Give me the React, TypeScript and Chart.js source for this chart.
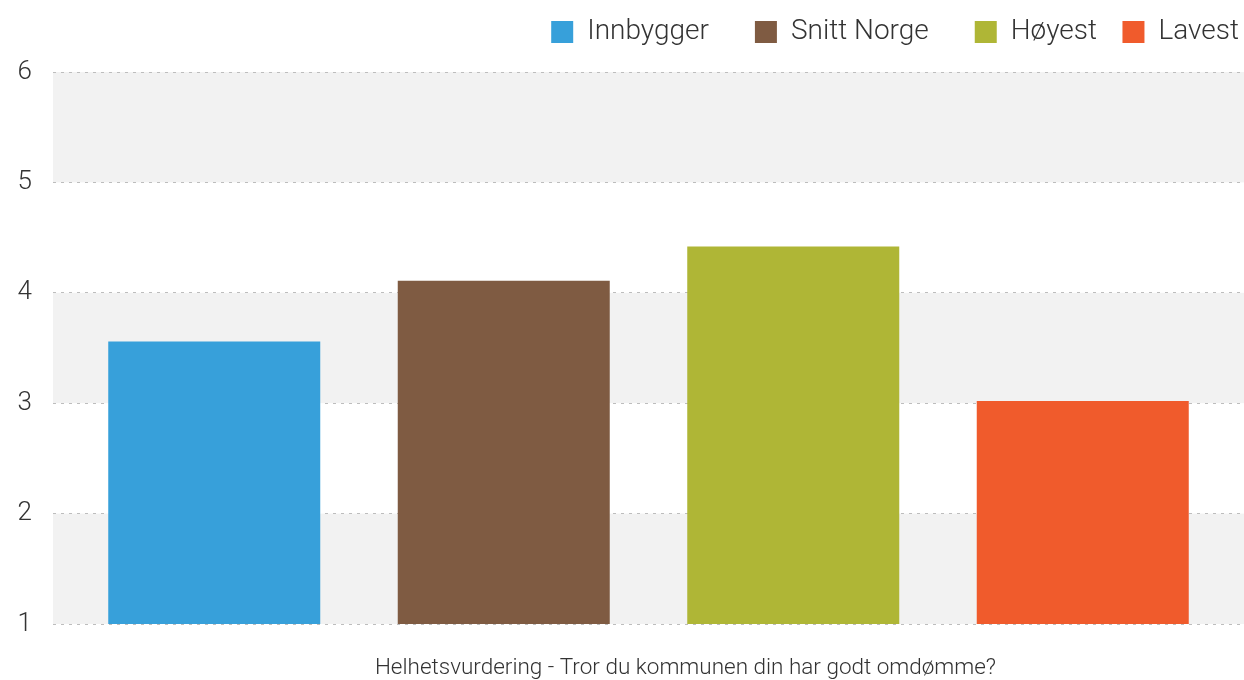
import React, { useEffect, useRef } from "react";
import { Chart, registerables } from "chart.js";

Chart.register(...registerables);

const categories = ["Helhetsvurdering - Tror du kommunen din har godt omdømme?"];
const seriesNames = ["Innbygger", "Snitt Norge", "Høyest", "Lavest"];
const innbygger = [3.56];
const snittNorge = [4.11];
const hoyest = [4.42];
const lavest = [3.02];
const seriesColors = ["#37A0DA", "#7F5B42", "#AFB636", "#F05B2C"];
const yMin = 1;
const yMax = 6;
const shadedBands = [
  [1, 2],
  [3, 4],
  [5, 6],
];

const FONT = "Roboto, 'Liberation Sans', sans-serif";
const legendSpacing = [6, 6, 3, 0];

const bandsPlugin = {
  id: "bands",
  beforeDraw(chart: any) {
    const { ctx, chartArea, scales } = chart;
    const y = scales.y;
    ctx.save();
    ctx.fillStyle = "#F2F2F2";
    for (const [a, b] of shadedBands) {
      const top = y.getPixelForValue(b);
      const bottom = y.getPixelForValue(a);
      ctx.fillRect(chartArea.left, top, chartArea.right - chartArea.left, bottom - top);
    }
    ctx.restore();
  },
};

const legendHeightPlugin = {
  id: "legendHeight",
  beforeInit(chart: any) {
    const legend = chart.legend;
    if (!legend) return;
    const orig = legend.fit;
    legend.fit = function () {
      orig.call(this);
      this.height += 16;
    };
  },
};

export default function App() {
  const ref = useRef<HTMLCanvasElement | null>(null);

  useEffect(() => {
    if (!ref.current) return;
    const values = [innbygger, snittNorge, hoyest, lavest];
    const chart = new Chart(ref.current, {
      type: "bar",
      data: {
        labels: categories,
        datasets: seriesNames.map((name, i) => ({
          label: name,
          data: values[i],
          backgroundColor: seriesColors[i],
          borderWidth: 0,
          barPercentage: 0.7323,
          categoryPercentage: 0.9723,
        })),
      },
      options: {
        responsive: false,
        animation: false,
        layout: { padding: { left: 17, top: 13, right: 0, bottom: 0 } },
        plugins: {
          tooltip: { enabled: false },
          legend: {
            position: "top",
            align: "end",
            labels: {
              boxWidth: 22,
              boxHeight: 22,
              padding: 5,
              color: "#333333",
              font: { family: FONT, size: 28, weight: "300" as any },
              generateLabels: (c: any) => {
                const items = (Chart.defaults.plugins.legend.labels as any).generateLabels(c);
                return items.map((it: any, i: number) => ({
                  ...it,
                  lineWidth: 0,
                  text: it.text + " ".repeat(legendSpacing[i] || 0),
                }));
              },
            },
          },
        },
        scales: {
          x: {
            grid: { display: false, drawTicks: false },
            border: { display: false },
            afterFit: (s: any) => {
              s.height = 56;
            },
            ticks: {
              color: "#333333",
              padding: 31,
              labelOffset: 37,
              font: { family: FONT, size: 22.5, weight: "300" as any },
            },
          },
          y: {
            min: yMin,
            max: yMax,
            grid: { color: "#BDBDBD", lineWidth: 1, drawTicks: false },
            border: { display: false, dash: [3, 5] },
            afterFit: (s: any) => {
              s.width = 36;
            },
            ticks: {
              stepSize: 1,
              color: "#333333",
              padding: 21,
              font: { family: FONT, size: 26, weight: "300" as any },
            },
          },
        },
      },
      plugins: [bandsPlugin, legendHeightPlugin],
    });
    return () => chart.destroy();
  }, []);

  return (
    <div style={{ position: "absolute", left: 0, top: 0, width: 1244, height: 680, background: "#fff" }}>
      <canvas ref={ref} width={1244} height={680} style={{ display: "block" }} />
    </div>
  );
}
